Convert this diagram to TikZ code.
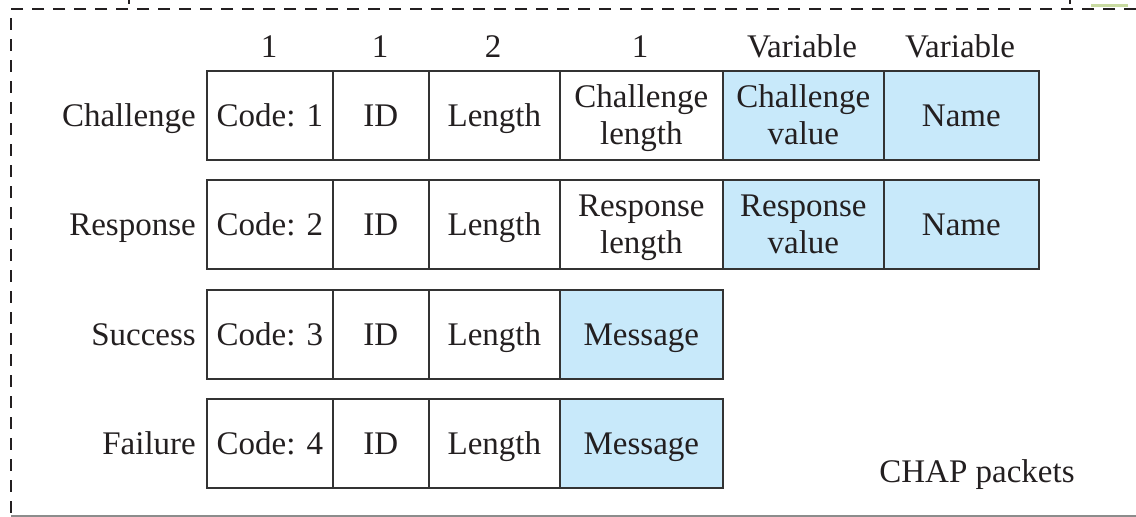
\documentclass[tikz,border=0pt]{standalone}
\usepackage{fontspec}
\setmainfont{Liberation Serif}
\definecolor{txt}{HTML}{231F20}
\definecolor{edge}{HTML}{333333}
\definecolor{lblue}{RGB}{200,233,250}
\definecolor{lgreen}{RGB}{200,218,160}
\definecolor{framegray}{RGB}{140,140,140}
\newcommand{\ls}{\rule[-7.5pt]{0pt}{37pt}}
\begin{document}
\begin{tikzpicture}[x=1pt,y=-1pt,
  every node/.style={text=txt,font=\fontsize{33}{37}\selectfont},
  cell/.style={draw=edge,line width=1.7pt,inner sep=0pt,minimum height=89pt,align=center,anchor=north west},
  blue/.style={cell,fill=lblue},
  rowlabel/.style={anchor=east,inner sep=0pt},
  head/.style={anchor=base,inner sep=0pt},
  frame/.style={line width=2pt,dash pattern=on 12pt off 9pt,draw=txt}]
\useasboundingbox (0,0) rectangle (1136,517);
% frame
\draw[frame] (1136,9) -- (11,9) -- (11,516);
\draw[framegray,line width=1.5pt] (11,516) -- (1136,516);
\draw[txt,line width=1.5pt] (129,0) -- (129,4);
\draw[txt,line width=1.5pt] (1070,0) -- (1070,4);
\draw[lgreen,line width=3pt] (1091,5.5) -- (1128,5.5);
% header
\node[head] (h1) at (269,57) {1};
\node[head] (h2) at (380,57) {1};
\node[head] (h3) at (493,57) {2};
\node[head] (h4) at (640,57) {1};
\node[head] (h5) at (802,57) {Variable};
\node[head] (h6) at (960,57) {Variable};
% row 1
\node[rowlabel] (l1) at (196,115) {\ls Challenge};
\node[cell,minimum width=126pt] (a1) at (206,70) {\ls Code: 1};
\node[cell,minimum width=96pt] (a2) at (332,70) {\ls ID};
\node[cell,minimum width=131pt] (a3) at (428,70) {\ls Length};
\node[cell,minimum width=163pt] (a4) at (559,70) {\ls Challenge\\\ls length};
\node[blue,minimum width=161pt] (a5) at (722,70) {\ls Challenge\\\ls value};
\node[blue,minimum width=155pt] (a6) at (883,70) {\ls Name};
% row 2
\node[rowlabel] (l2) at (196,224) {\ls Response};
\node[cell,minimum width=126pt] (b1) at (206,179) {\ls Code: 2};
\node[cell,minimum width=96pt] (b2) at (332,179) {\ls ID};
\node[cell,minimum width=131pt] (b3) at (428,179) {\ls Length};
\node[cell,minimum width=163pt] (b4) at (559,179) {\ls Response\\\ls length};
\node[blue,minimum width=161pt] (b5) at (722,179) {\ls Response\\\ls value};
\node[blue,minimum width=155pt] (b6) at (883,179) {\ls Name};
% row 3
\node[rowlabel] (l3) at (196,334) {\ls Success};
\node[cell,minimum width=126pt] (c1) at (206,289) {\ls Code: 3};
\node[cell,minimum width=96pt] (c2) at (332,289) {\ls ID};
\node[cell,minimum width=131pt] (c3) at (428,289) {\ls Length};
\node[blue,minimum width=163pt] (c4) at (559,289) {\ls Message};
% row 4
\node[rowlabel] (l4) at (196,443) {\ls Failure};
\node[cell,minimum width=126pt] (d1) at (206,398) {\ls Code: 4};
\node[cell,minimum width=96pt] (d2) at (332,398) {\ls ID};
\node[cell,minimum width=131pt] (d3) at (428,398) {\ls Length};
\node[blue,minimum width=163pt] (d4) at (559,398) {\ls Message};
% caption
\node[anchor=base,inner sep=0pt] (cap) at (977,482) {CHAP packets};
\end{tikzpicture}
\end{document}
